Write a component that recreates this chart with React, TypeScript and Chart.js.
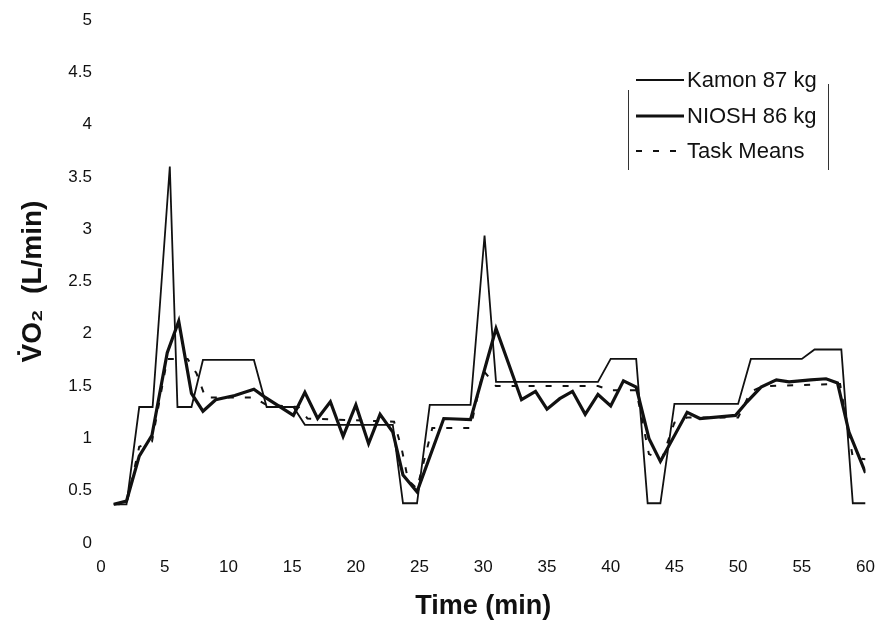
import React, { useEffect, useRef } from "react";
import { Chart, registerables } from "chart.js";

Chart.register(...registerables);

// ---- data (time in min, VO2 in L/min) ----
const kamonTime = [1, 2, 3, 4.05, 5.4, 6, 7.1, 8, 12, 13, 15.1, 16, 22.9, 23.7, 24.8, 25.8, 29, 30.1, 31, 39, 40, 42, 42.9, 43.9, 45, 50, 51, 55, 56, 58.1, 59, 60];
const kamonVO2 = [0.37, 0.37, 1.3, 1.3, 3.6, 1.3, 1.3, 1.75, 1.75, 1.3, 1.3, 1.13, 1.13, 0.38, 0.38, 1.32, 1.32, 2.94, 1.54, 1.54, 1.76, 1.76, 0.38, 0.38, 1.33, 1.33, 1.76, 1.76, 1.85, 1.85, 0.38, 0.38];

const nioshTime = [1, 2, 3, 4, 5.2, 6.1, 7.1, 8, 9, 10.5, 12, 12.8, 15.1, 16, 17, 18, 19, 20, 21, 21.9, 22.9, 23.7, 24.8, 26.9, 29, 31, 33, 34.1, 35, 36, 37, 38, 39, 40, 41, 42, 43, 43.9, 46, 47, 49.8, 50.7, 51.8, 53, 54, 55.7, 56.9, 57.8, 58.7, 60];
const nioshVO2 = [0.37, 0.4, 0.83, 1.03, 1.82, 2.12, 1.43, 1.26, 1.37, 1.41, 1.47, 1.4, 1.22, 1.44, 1.19, 1.35, 1.02, 1.32, 0.95, 1.23, 1.06, 0.65, 0.49, 1.19, 1.18, 2.05, 1.37, 1.45, 1.28, 1.38, 1.45, 1.23, 1.42, 1.31, 1.55, 1.49, 1.0, 0.78, 1.25, 1.19, 1.22, 1.35, 1.49, 1.56, 1.54, 1.56, 1.57, 1.53, 1.06, 0.67];

const meanTime = [1, 2, 3, 4, 5.2, 6.8, 7.5, 8.2, 12, 13, 15.5, 16.2, 23, 23.6, 24.1, 24.8, 26, 29, 30, 31, 39, 40, 42, 43, 44, 45, 46, 50, 51, 52, 58, 58.7, 59, 60];
const meanVO2 = [0.37, 0.37, 0.92, 0.97, 1.76, 1.76, 1.62, 1.39, 1.39, 1.32, 1.3, 1.19, 1.16, 0.9, 0.6, 0.52, 1.1, 1.1, 1.65, 1.5, 1.5, 1.46, 1.46, 0.85, 0.8, 1.15, 1.2, 1.2, 1.45, 1.5, 1.52, 1.03, 0.82, 0.8];

const seriesLabels = ["Kamon 87 kg", "NIOSH 86 kg", "Task Means"];
const xTitle = "Time (min)";
const yTitle = "V\u0307O\u2082  (L/min)";

const toPoints = (xs: number[], ys: number[]) => xs.map((x, i) => ({ x, y: ys[i] }));

const FONT = "'Liberation Sans', Arial, Helvetica, sans-serif";

const scanLegend = {
  id: "scanLegend",
  afterDraw(chart: any) {
    const ctx = chart.ctx as CanvasRenderingContext2D;
    const rows = [80, 116, 151];
    ctx.save();
    chart.data.datasets.forEach((ds: any, i: number) => {
      const y = rows[i];
      ctx.beginPath();
      ctx.setLineDash(ds.borderDash || []);
      ctx.lineWidth = ds.borderWidth;
      ctx.strokeStyle = ds.borderColor;
      ctx.moveTo(636, y);
      ctx.lineTo(684, y);
      ctx.stroke();
      ctx.setLineDash([]);
      ctx.fillStyle = "#111";
      ctx.font = `22px ${FONT}`;
      ctx.textBaseline = "middle";
      ctx.textAlign = "left";
      ctx.fillText(ds.label, 687, y + 1);
    });
    ctx.strokeStyle = "#333";
    ctx.lineWidth = 1;
    ctx.beginPath();
    ctx.moveTo(628.5, 90);
    ctx.lineTo(628.5, 170);
    ctx.moveTo(828.5, 84);
    ctx.lineTo(828.5, 170);
    ctx.stroke();
    ctx.restore();
  },
};

export default function App() {
  const ref = useRef<HTMLCanvasElement | null>(null);
  useEffect(() => {
    if (!ref.current) return;
    const chart = new Chart(ref.current, {
      type: "line",
      data: {
        datasets: [
          {
            label: seriesLabels[0],
            data: toPoints(kamonTime, kamonVO2),
            borderColor: "#111",
            borderWidth: 1.8,
            pointRadius: 0,
            tension: 0,
            fill: false,
          },
          {
            label: seriesLabels[1],
            data: toPoints(nioshTime, nioshVO2),
            borderColor: "#111",
            borderWidth: 3.2,
            pointRadius: 0,
            tension: 0,
            fill: false,
          },
          {
            label: seriesLabels[2],
            data: toPoints(meanTime, meanVO2),
            borderColor: "#111",
            borderWidth: 2,
            borderDash: [6, 11],
            pointRadius: 0,
            tension: 0,
            fill: false,
          },
        ],
      },
      options: {
        animation: false,
        responsive: true,
        maintainAspectRatio: false,
        layout: { padding: { left: 0, right: 12, top: 20, bottom: 0 } },
        plugins: {
          legend: { display: false },
          tooltip: { enabled: false },
        },
        scales: {
          x: {
            type: "linear",
            min: 0,
            max: 60,
            grid: { display: false, drawTicks: false },
            border: { display: false },
            ticks: {
              stepSize: 5,
              padding: 14,
              color: "#111",
              font: { size: 17, family: FONT },
            },
            title: {
              display: true,
              text: xTitle,
              color: "#111",
              font: { size: 27, weight: "bold", family: FONT },
              padding: { top: 0, bottom: 2 },
            },
            afterFit: (s: any) => {
              s.height = 82;
            },
          },
          y: {
            type: "linear",
            min: 0,
            max: 5,
            grid: { display: false, drawTicks: false },
            border: { display: false },
            ticks: {
              stepSize: 0.5,
              padding: 9,
              color: "#111",
              font: { size: 17, family: FONT },
              callback: (v: any) => String(Math.round(Number(v) * 10) / 10),
            },
            title: {
              display: true,
              text: yTitle,
              color: "#111",
              font: { size: 28, weight: "bold", family: FONT },
              padding: { top: 16, bottom: 0 },
            },
            afterFit: (s: any) => {
              s.width = 101;
            },
          },
        },
      },
      plugins: [scanLegend],
    });
    return () => chart.destroy();
  }, []);

  return (
    <div style={{ position: "absolute", left: 0, top: 0, width: 889, height: 625, background: "#fff" }}>
      <canvas ref={ref} />
    </div>
  );
}
